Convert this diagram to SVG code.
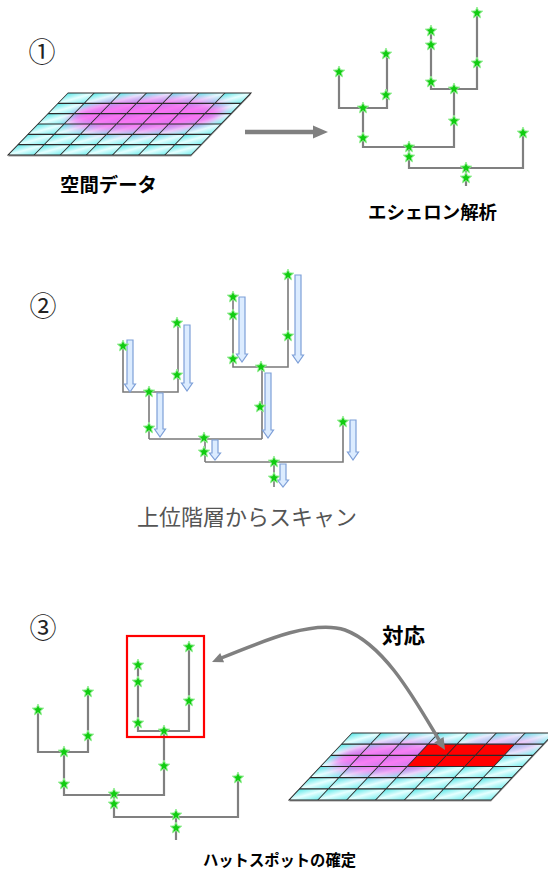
<svg xmlns="http://www.w3.org/2000/svg" xmlns:xlink="http://www.w3.org/1999/xlink" width="548" height="872" viewBox="0 0 548 872">
<style>
.tree{fill:none;stroke:#808080;stroke-width:2.2;stroke-linecap:square}
.tree2{fill:none;stroke:#7a7a7a;stroke-width:1.6}
.grid{fill:none;stroke:#2a2a2a;stroke-width:1.2}
.sarrow{fill:#dcecff;stroke:#7d9fd8;stroke-width:1.2}
.lbl{font-family:"Noto Sans CJK JP","Noto Sans",sans-serif;font-weight:bold;fill:#000}
.num{font-family:"Noto Sans CJK JP","DejaVu Serif",serif;font-size:27px;fill:#222;text-anchor:middle}
.garrow{fill:none;stroke:#808080;stroke-width:3.5}
</style>
<defs>
<path id="star" d="M0,-6 L1.55,-2.14 L5.71,-1.86 L2.51,0.82 L3.53,4.86 L0,2.64 L-3.53,4.86 L-2.51,0.82 L-5.71,-1.86 L-1.55,-2.14 Z" fill="#11cc11" stroke="#99f099" stroke-width="1"/>
<linearGradient id="cellg" x1="0" y1="0" x2="1" y2="1">
<stop offset="0" stop-color="#55e6e6"/>
<stop offset="0.5" stop-color="#e6ffff"/>
<stop offset="1" stop-color="#77eeee"/>
</linearGradient>
<pattern id="cells1" patternUnits="userSpaceOnUse" width="26.143" height="10.333">
<rect width="26.143" height="10.333" fill="url(#cellg)"/>
</pattern>
<pattern id="cells3" patternUnits="userSpaceOnUse" width="28.857" height="11.167">
<rect width="28.857" height="11.167" fill="url(#cellg)"/>
</pattern>
<filter id="blur" x="-50%" y="-50%" width="200%" height="200%"><feGaussianBlur stdDeviation="5"/></filter>
<clipPath id="clip1"><rect width="183" height="62"/></clipPath>
<clipPath id="clip3"><rect width="202" height="67"/></clipPath>
</defs>

<!-- Section 1 -->
<text class="num" x="42" y="62">①</text>

<g id="grid1" transform="translate(68,93) skewX(-44.06)">
<rect x="1.5" y="1.5" width="183" height="62" fill="#9a9a9a"/>
<rect width="183" height="62" fill="url(#cells1)"/>
<g clip-path="url(#clip1)">
<ellipse cx="100" cy="22" rx="75" ry="17" fill="#ff44ee" opacity="0.75" filter="url(#blur)"/>
</g>
<path class="grid" d="M26.14,0V62M52.29,0V62M78.43,0V62M104.57,0V62M130.71,0V62M156.86,0V62M0,10.33H183M0,20.67H183M0,31H183M0,41.33H183M0,51.67H183"/>
<rect class="grid" width="183" height="62"/>
</g>

<g id="arrow1">
<line x1="245" y1="132" x2="315" y2="132" stroke="#808080" stroke-width="4.5"/>
<polygon points="313,125.5 328,132 313,138.5" fill="#808080"/>
</g>

<g id="tree1">
<path class="tree" d="M339,72V108H387V54M363,108V147M431,31V89H477V13M454,89V147M363,147H454M409,147V168M409,168H523V133M466,168V185"/>
<use href="#star" x="339" y="72"/><use href="#star" x="386" y="54"/><use href="#star" x="386" y="95"/>
<use href="#star" x="363" y="108"/><use href="#star" x="363" y="138"/>
<use href="#star" x="431" y="31"/><use href="#star" x="431" y="45"/><use href="#star" x="431" y="82"/>
<use href="#star" x="477" y="13"/><use href="#star" x="477" y="63"/><use href="#star" x="454" y="89"/>
<use href="#star" x="454" y="121"/><use href="#star" x="409" y="147"/><use href="#star" x="409" y="157"/>
<use href="#star" x="523" y="133"/><use href="#star" x="466" y="168"/><use href="#star" x="466" y="178"/>
</g>

<text class="lbl" x="60" y="192" font-size="19" textLength="97" lengthAdjust="spacingAndGlyphs">空間データ</text>
<text class="lbl" x="368" y="219" font-size="18" textLength="129" lengthAdjust="spacingAndGlyphs">エシェロン解析</text>

<!-- Section 2 -->
<text class="num" x="43" y="316">②</text>

<g id="tree2">
<path class="tree2" d="M123,345V392H178V322M149,392V439M233,296V367H288V273M262,367V439M149,439H262M205,439V462M205,462H343V420M274,462V487"/>
</g>
<g id="scan-arrows">
<path class="sarrow" d="M127,340H133V384H135.5L130,392L124.5,384H127Z"/>
<path class="sarrow" d="M184,325H190V383H192.5L187,391L181.5,383H184Z"/>
<path class="sarrow" d="M239,297H245V354H247.5L242,362L236.5,354H239Z"/>
<path class="sarrow" d="M295,275H301V355H303.5L298,363L292.5,355H295Z"/>
<path class="sarrow" d="M157,393H163V429H165.5L160,437L154.5,429H157Z"/>
<path class="sarrow" d="M265,373H271V430H273.5L268,438L262.5,430H265Z"/>
<path class="sarrow" d="M212,440H218V453H220.5L215,460L209.5,453H212Z"/>
<path class="sarrow" d="M350,420H356V452H358.5L353,460L347.5,452H350Z"/>
<path class="sarrow" d="M280,464H286V480H288.5L283,487L277.5,480H280Z"/>
</g>
<g id="stars2">
<use href="#star" x="123" y="346"/><use href="#star" x="177" y="323"/><use href="#star" x="177" y="375"/>
<use href="#star" x="149" y="392"/><use href="#star" x="149" y="428"/>
<use href="#star" x="233" y="297"/><use href="#star" x="233" y="315"/><use href="#star" x="233" y="359"/>
<use href="#star" x="288" y="275"/><use href="#star" x="288" y="336"/><use href="#star" x="261" y="367"/>
<use href="#star" x="260" y="407"/><use href="#star" x="204" y="438"/><use href="#star" x="204" y="452"/>
<use href="#star" x="343" y="422"/><use href="#star" x="274" y="462"/><use href="#star" x="274" y="478"/>
</g>
<text x="137" y="525" font-family="Noto Sans CJK JP, Noto Sans, sans-serif" font-size="22" fill="#555" textLength="220" lengthAdjust="spacingAndGlyphs">上位階層からスキャン</text>

<!-- Section 3 -->
<text class="num" x="43" y="638">③</text>

<g id="tree3">
<path class="tree" d="M38,710V752H88V692M64,752V795M138,665V731H189V647M164,731V795M64,795H164M114,795V817M114,817H238V778M176,817V839"/>
<use href="#star" x="38" y="710"/><use href="#star" x="88" y="692"/><use href="#star" x="88" y="736"/>
<use href="#star" x="64" y="752"/><use href="#star" x="64" y="784"/>
<use href="#star" x="138" y="665"/><use href="#star" x="138" y="682"/><use href="#star" x="138" y="723"/>
<use href="#star" x="189" y="647"/><use href="#star" x="189" y="701"/><use href="#star" x="164" y="731"/>
<use href="#star" x="164" y="766"/><use href="#star" x="114" y="794"/><use href="#star" x="114" y="804"/>
<use href="#star" x="238" y="778"/><use href="#star" x="176" y="815"/><use href="#star" x="176" y="828"/>
</g>
<rect id="hotspot-box" x="127" y="636" width="77" height="101" fill="none" stroke="#ff0000" stroke-width="2.2"/>

<g id="grid3" transform="translate(352,733) skewX(-43.24)">
<rect x="1.5" y="1.5" width="202" height="67" fill="#9a9a9a"/>
<rect width="202" height="67" fill="url(#cells3)"/>
<g clip-path="url(#clip3)">
<ellipse cx="65" cy="25" rx="58" ry="16" fill="#ff44ee" opacity="0.7" filter="url(#blur)"/>
<ellipse cx="160" cy="12" rx="40" ry="8" fill="#ff55ee" opacity="0.4" filter="url(#blur)"/>
</g>
<rect x="86.57" y="11.17" width="86.57" height="22.33" fill="#ff0000"/>
<path class="grid" d="M28.86,0V67M57.71,0V67M86.57,0V67M115.43,0V67M144.29,0V67M173.14,0V67M0,11.17H202M0,22.33H202M0,33.5H202M0,44.67H202M0,55.83H202"/>
<rect class="grid" width="202" height="67"/>
</g>

<g id="link">
<path class="garrow" d="M220,658.5C270,638 315,620 345,630C385,645 415,700 439,740"/>
<polygon points="212,662 224.1,662.3 220.2,653.1" fill="#808080"/>
<polygon points="445,750 443.6,736.9 434.2,742.5" fill="#808080"/>
</g>
<text class="lbl" x="382" y="643" font-size="21" textLength="43" lengthAdjust="spacingAndGlyphs">対応</text>
<text class="lbl" x="203" y="866" font-size="16" textLength="153" lengthAdjust="spacingAndGlyphs">ハットスポットの確定</text>
</svg>
